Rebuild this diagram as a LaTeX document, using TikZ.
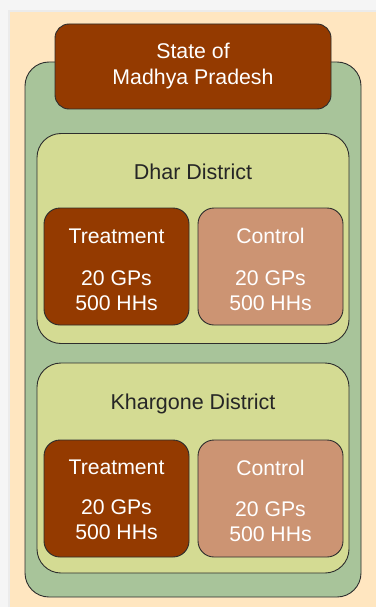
\documentclass[tikz,border=0pt]{standalone}
\usepackage{fontspec}
\setmainfont{Liberation Sans}
\usepackage{tikz}

\definecolor{beige}{RGB}{255,230,192}
\definecolor{outergreen}{RGB}{168,196,154}
\definecolor{distgreen}{RGB}{212,219,147}
\definecolor{darkbrown}{RGB}{148,58,0}
\definecolor{lightbrown}{RGB}{204,148,115}
\definecolor{edge}{RGB}{45,45,45}

\tikzset{
  box/.style={draw=edge, line width=0.9pt, rounded corners=#1, inner sep=0pt},
  armbox/.style={box=16pt, minimum width=145pt, minimum height=117pt,
    align=center, text=white, font=\fontsize{21.2}{25}\selectfont},
  distbox/.style={box=24pt, fill=distgreen, minimum width=312pt, minimum height=210pt},
  distlabel/.style={text=black!85, font=\fontsize{21.5}{25}\selectfont}
}

\begin{document}
\begin{tikzpicture}[x=1pt,y=-1pt]
    \useasboundingbox (0,0) rectangle (376,607);
    \fill[black!4] (0,0) rectangle (376,607);
    \fill[black!8] (8,10) rectangle (376,607);
    \fill[beige] (10,12) rectangle (376,607);

    \node[box=24pt, fill=outergreen, minimum width=336pt, minimum height=535pt] (state area) at (193,329.5) {};
    \node[box=14pt, fill=darkbrown, minimum width=276pt, minimum height=85pt,
          align=center, text=white, font=\fontsize{21.3}{26}\selectfont] (state) at (193,66.5) {State of\\Madhya Pradesh};

    \node[distbox] (dhar) at (193,238.5) {};
    \node[distlabel] (dhar label) at (193,172) {Dhar District};
    \node[armbox, fill=darkbrown] (dhar treat) at (116.5,266.5) {\rule{0pt}{22pt}Treatment\\[17pt]20 GPs\\500 HHs};
    \node[armbox, fill=lightbrown] (dhar ctrl) at (270.5,266.5) {\rule{0pt}{22pt}Control\\[17pt]20 GPs\\500 HHs};

    \node[distbox] (khargone) at (193,468) {};
    \node[distlabel] (khargone label) at (193,404) {Khargone District};
    \node[armbox, fill=darkbrown] (khargone treat) at (116.5,498.5) {\rule{0pt}{17pt}Treatment\\[15pt]20 GPs\\500 HHs};
    \node[armbox, fill=lightbrown] (khargone ctrl) at (270.5,498.5) {\rule{0pt}{21pt}Control\\[16pt]20 GPs\\500 HHs};
\end{tikzpicture}
\end{document}
